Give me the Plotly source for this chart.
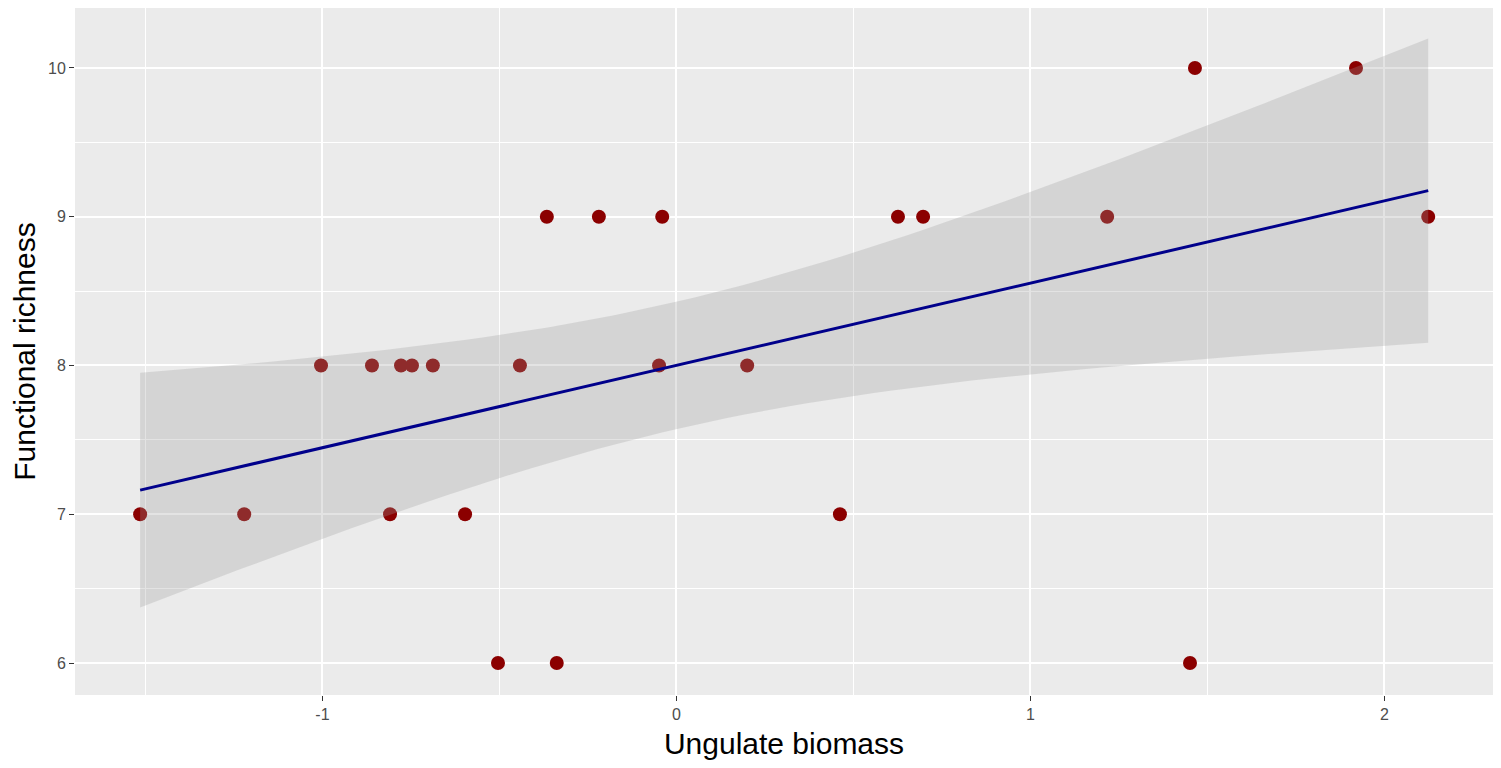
import numpy as np
import plotly.graph_objects as go

# Data
ungulate_biomass = [-1.515, -1.221, -1.004, -0.860, -0.809, -0.778, -0.747, -0.688,
                    -0.597, -0.504, -0.442, -0.366, -0.338, -0.219, -0.049, -0.040,
                    0.200, 0.462, 0.626, 0.697, 1.217, 1.451, 1.465, 1.920, 2.124]
functional_richness = [7, 7, 8, 8, 7, 8, 8, 8,
                       7, 6, 8, 9, 6, 9, 8, 9,
                       8, 7, 9, 9, 9, 6, 10, 10, 9]
x_ticks = [-1, 0, 1, 2]
x_tick_labels = ["-1", "0", "1", "2"]
y_ticks = [6, 7, 8, 9, 10]
y_tick_labels = ["6", "7", "8", "9", "10"]

# Linear model fit with 95% confidence band (as geom_smooth(method="lm"))
x = np.array(ungulate_biomass)
y = np.array(functional_richness, dtype=float)
n = len(x)
slope, intercept = np.polyfit(x, y, 1)
resid = y - (intercept + slope * x)
s = np.sqrt(np.sum(resid ** 2) / (n - 2))
sxx = np.sum((x - x.mean()) ** 2)
t_crit = 2.0687  # t quantile 0.975, df = 23
xs = np.linspace(x.min(), x.max(), 80)
fit = intercept + slope * xs
se = s * np.sqrt(1.0 / n + (xs - x.mean()) ** 2 / sxx)
upper = fit + t_crit * se
lower = fit - t_crit * se

fig = go.Figure()
fig.add_trace(go.Scatter(x=ungulate_biomass, y=functional_richness, mode="markers",
                         marker=dict(size=14, color="#8B0000"), showlegend=False))
fig.add_trace(go.Scatter(x=np.concatenate([xs, xs[::-1]]),
                         y=np.concatenate([upper, lower[::-1]]),
                         fill="toself", fillcolor="rgba(153,153,153,0.28)",
                         line=dict(width=0), mode="lines", showlegend=False,
                         hoverinfo="skip"))
fig.add_trace(go.Scatter(x=xs, y=fit, mode="lines",
                         line=dict(color="#00008B", width=3), showlegend=False))

axis_common = dict(
    showline=False, zeroline=False, automargin=False,
    gridcolor="white", gridwidth=1.6,
    ticks="outside", ticklen=5, tickwidth=1.3, tickcolor="#333333",
    tickfont=dict(family="Liberation Sans, Arial", size=16, color="#4D4D4D"),
    minor=dict(showgrid=True, gridcolor="white", gridwidth=0.8, ticks=""),
)

# The page body adds an 8px offset; margins compensate for it
fig.update_layout(
    width=1501, height=768,
    margin=dict(l=67, r=16, t=0, b=81),
    paper_bgcolor="white", plot_bgcolor="#EBEBEB",
    font=dict(family="Liberation Sans, Arial"),
    xaxis=dict(range=[-1.699, 2.307], tickvals=x_ticks, ticktext=x_tick_labels,
               title=dict(text="Ungulate biomass", standoff=10,
                          font=dict(size=30, color="black")),
               **axis_common),
    yaxis=dict(range=[5.785, 10.403], tickvals=y_ticks, ticktext=y_tick_labels,
               title=dict(text="Functional richness", standoff=9,
                          font=dict(size=30, color="black")),
               **axis_common),
)
fig.update_xaxes(minor=dict(tickvals=[-1.5, -0.5, 0.5, 1.5]))
fig.update_yaxes(minor=dict(tickvals=[6.5, 7.5, 8.5, 9.5]))

fig.write_html("out.html")
